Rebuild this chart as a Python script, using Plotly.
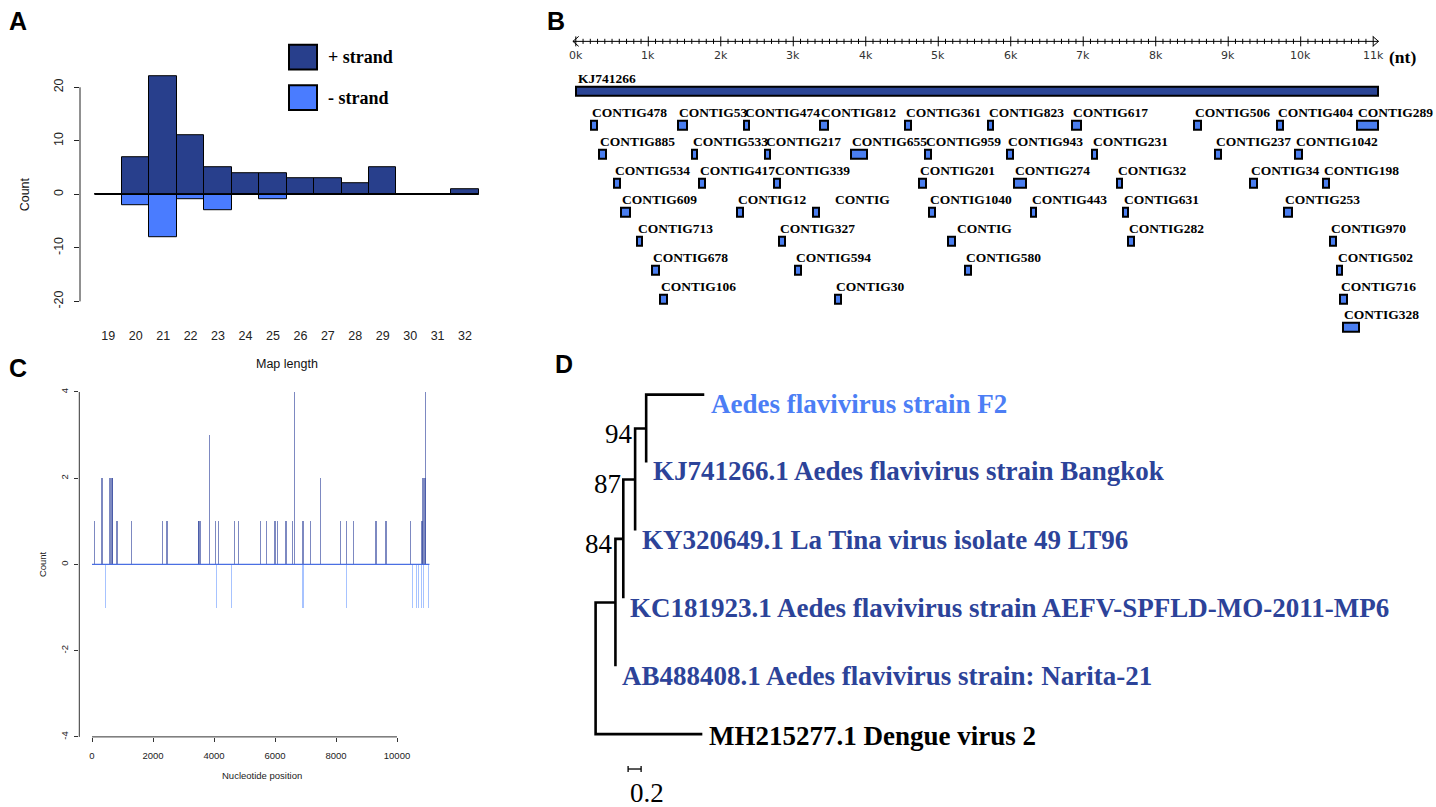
import plotly.graph_objects as go

W, H = 1436, 807

# ---------------- DATA ----------------
# Panel A : length distribution of mapped small RNAs
MAP_LENGTH = list(range(19, 33))
PLUS_COUNT = [0, 7, 22, 11, 5, 4, 4, 3, 3, 2, 5, 0, 0, 1]
MINUS_COUNT = [0, -2, -8, -1, -3, 0, -1, 0, 0, 0, 0, 0, 0, 0]
A_YTICKS = [-20, -10, 0, 10, 20]

# Panel B : contigs mapped on KJ741266
GENOME_NAME = "KJ741266"
GENOME_LENGTH = 11064
RULER_KB = list(range(0, 12))
CONTIG_NAMES = [
    "CONTIG478", "CONTIG53", "CONTIG474", "CONTIG812", "CONTIG361", "CONTIG823", "CONTIG617", "CONTIG506", "CONTIG404", "CONTIG289",
    "CONTIG885", "CONTIG533", "CONTIG217", "CONTIG655", "CONTIG959", "CONTIG943", "CONTIG231", "CONTIG237", "CONTIG1042",
    "CONTIG534", "CONTIG417", "CONTIG339", "CONTIG201", "CONTIG274", "CONTIG32", "CONTIG34", "CONTIG198",
    "CONTIG609", "CONTIG12", "CONTIG", "CONTIG1040", "CONTIG443", "CONTIG631", "CONTIG253",
    "CONTIG713", "CONTIG327", "CONTIG", "CONTIG282", "CONTIG970",
    "CONTIG678", "CONTIG594", "CONTIG580", "CONTIG502",
    "CONTIG106", "CONTIG30", "CONTIG716",
    "CONTIG328",
]
CONTIG_START = [
    210, 1414, 2320, 3369, 4537, 5682, 6845, 8532, 9673, 10781,
    324, 1599, 2606, 3801, 4822, 5944, 7117, 8822, 9917,
    527, 1695, 2730, 4739, 6049, 7462, 9305, 10307,
    619, 2219, 3276, 4877, 6275, 7545, 9774,
    848, 2807, 5139, 7622, 10408,
    1047, 3028, 5373, 10501,
    1162, 3580, 10546,
    10588,
]
CONTIG_END = [
    292, 1530, 2394, 3475, 4620, 5760, 6965, 8620, 9756, 11062,
    417, 1676, 2679, 4021, 4904, 6035, 7194, 8896, 10014,
    610, 1782, 2817, 4827, 6211, 7539, 9393, 10386,
    748, 2302, 3355, 4955, 6353, 7622, 9880,
    917, 2886, 5231, 7696, 10483,
    1144, 3102, 5448, 10574,
    1254, 3654, 10643,
    10800,
]
CONTIG_ROW = [1] * 10 + [2] * 9 + [3] * 8 + [4] * 7 + [5] * 5 + [6] * 4 + [7] * 3 + [8]

# Panel C : read coverage along the genome (+ / - strand)
POS_SITE = [88, 340, 590, 610, 665, 685, 830, 1300, 2320, 2470, 3490, 3520, 3580, 3850, 4050,
            4165, 4675, 4805, 5530, 5730, 6010, 6090, 6370, 6570, 6655, 6930, 7160, 7500, 8150,
            8350, 8580, 9320, 9650, 10450, 10810, 10840, 10860, 10930, 10950]
POS_COUNT = [1, 2, 2, 2, 2, 2, 1, 1, 1, 1, 1, 1, 1, 3, 1,
             1, 1, 1, 1, 1, 1, 1, 1, 1, 4, 1, 1, 2, 1,
             1, 1, 1, 1, 1, 1, 1, 2, 2, 4]
NEG_SITE = [440, 4100, 4590, 6930, 8350, 10510, 10640, 10720, 10800, 10890, 11030]
NEG_COUNT = [-1, -1, -1, -1, -1, -1, -1, -1, -1, -1, -1]
C_XTICKS = [0, 2000, 4000, 6000, 8000, 10000]
C_YTICKS = [-4, -2, 0, 2, 4]

# Panel D : phylogenetic tree (newick, branch lengths, bootstrap)
NEWICK = "(((((F2:0.894,BKK:0)94:0.170,KY:0)87:0.182,KC:0)84:0.121,AB:0):0.305,DEN:1.642);"
TIP_TEXT = {
    "F2": "Aedes flavivirus strain F2",
    "BKK": "KJ741266.1 Aedes flavivirus strain Bangkok",
    "KY": "KY320649.1 La Tina virus isolate 49 LT96",
    "KC": "KC181923.1 Aedes flavivirus strain AEFV-SPFLD-MO-2011-MP6",
    "AB": "AB488408.1 Aedes flavivirus strain: Narita-21",
    "DEN": "MH215277.1 Dengue virus 2",
}
SCALE_BAR = 0.2

# ---------------- STYLE ----------------
PLUS_COLOR = "#283f8c"
MINUS_COLOR = "#4a7cff"
GENOME_COLOR = "#2b4596"
CONTIG_COLOR = "#4a7ef0"
TIP_COLOR = {"F2": "#4c7ef5", "BKK": "#2c4399", "KY": "#2c4399", "KC": "#2c4399", "AB": "#2c4399", "DEN": "#000000"}
TIP_YSHIFT = {"F2": -9, "BKK": -9, "KY": -10, "KC": -10, "AB": -10, "DEN": -2}
LABEL_XSHIFT = {29: 21, 36: 8}   # the two unnamed "CONTIG" labels sit right of their boxes
SANS = "Liberation Sans, Arial, sans-serif"
SERIF = "Liberation Serif, Times New Roman, serif"


def pxx(x):
    return x / W


def pxy(y):
    return 1 - y / H


def rlab(v):
    # R-style tick text (plain hyphen minus, no SI suffix)
    return str(v)


fig = go.Figure()
shapes = []
ann = []

# ================= Panel A =================
fig.add_trace(go.Bar(x=MAP_LENGTH, y=PLUS_COUNT, width=1, xaxis="x", yaxis="y",
                     marker=dict(color=PLUS_COLOR, line=dict(color="black", width=1)),
                     showlegend=False, hoverinfo="skip"))
fig.add_trace(go.Bar(x=MAP_LENGTH, y=MINUS_COUNT, width=1, xaxis="x", yaxis="y",
                     marker=dict(color=MINUS_COLOR, line=dict(color="black", width=1)),
                     showlegend=False, hoverinfo="skip"))
shapes.append(dict(type="line", xref="x", yref="y", x0=min(MAP_LENGTH) - 0.5, x1=max(MAP_LENGTH) + 0.5,
                   y0=0, y1=0, line=dict(color="black", width=1.2)))
shapes.append(dict(type="line", xref="x domain", yref="y", x0=0, x1=0, y0=min(A_YTICKS), y1=max(A_YTICKS),
                   line=dict(color="#222", width=1)))
# legend
for (y0, y1, col, txt) in [(41, 66, PLUS_COLOR, "+ strand"), (82, 107, MINUS_COLOR, "- strand")]:
    shapes.append(dict(type="rect", xref="paper", yref="paper", x0=pxx(289), x1=pxx(317), y0=pxy(y1), y1=pxy(y0),
                       fillcolor=col, line=dict(color="black", width=2)))
    ann.append(dict(xref="paper", yref="paper", x=pxx(326), y=pxy((y0 + y1) / 2), text="<b>%s</b>" % txt,
                    xanchor="left", yanchor="middle", showarrow=False, font=dict(family=SERIF, size=18, color="black")))
ann.append(dict(xref="paper", yref="paper", x=pxx(25), y=pxy(192), text="Count", textangle=-90, showarrow=False,
                xanchor="center", yanchor="middle", font=dict(family=SANS, size=12.5, color="#111")))
ann.append(dict(xref="paper", yref="paper", x=pxx(287), y=pxy(363), text="Map length", showarrow=False,
                xanchor="center", yanchor="middle", font=dict(family=SANS, size=12.5, color="#111")))

# ================= Panel B =================
ROW_PITCH = 29.2


def row_of(py):
    return 1 + (py - 109.3) / ROW_PITCH


ruler_y = row_of(37.7)
rx, ry = [], []
rx += [-40, GENOME_LENGTH + 10, None]
ry += [ruler_y, ruler_y, None]
for t in range(0, RULER_KB[-1] * 1000 + 1, 100):
    half = 5 / ROW_PITCH if t % 1000 == 0 else 2.6 / ROW_PITCH
    rx += [t, t, None]
    ry += [ruler_y - half, ruler_y + half, None]
ah_x, ah_y = 80, 5 / ROW_PITCH
rx += [-40 + ah_x, -40, -40 + ah_x, None, GENOME_LENGTH + 10 - ah_x, GENOME_LENGTH + 10, GENOME_LENGTH + 10 - ah_x, None]
ry += [ruler_y - ah_y, ruler_y, ruler_y + ah_y, None, ruler_y - ah_y, ruler_y, ruler_y + ah_y, None]
fig.add_trace(go.Scatter(x=rx, y=ry, mode="lines", line=dict(color="black", width=1), xaxis="x2", yaxis="y2",
                         showlegend=False, hoverinfo="skip"))
for k in RULER_KB:
    ann.append(dict(xref="x2", yref="y2", x=k * 1000, y=row_of(51.7), text="%dk" % k, showarrow=False,
                    xanchor="center", yanchor="middle", font=dict(family="DejaVu Sans", size=11, color="#333")))
ann.append(dict(xref="paper", yref="paper", x=pxx(1387), y=pxy(53.5), text="<b>(nt)</b>", showarrow=False,
                xanchor="left", yanchor="middle", font=dict(family=SERIF, size=17.5, color="black")))

g_row = row_of(87.8)
fig.add_trace(go.Bar(orientation="h", y=[g_row], x=[GENOME_LENGTH], base=[0], width=0.32, xaxis="x2", yaxis="y2",
                     marker=dict(color=GENOME_COLOR, line=dict(color="black", width=2)),
                     showlegend=False, hoverinfo="skip"))
ann.append(dict(xref="x2", yref="y2", x=0, y=row_of(75), text="<b>%s</b>" % GENOME_NAME, showarrow=False,
                xanchor="left", yanchor="middle", font=dict(family=SERIF, size=13.5, color="black")))

fig.add_trace(go.Bar(orientation="h",
                     y=[r + 0.44 for r in CONTIG_ROW],
                     x=[e - s for s, e in zip(CONTIG_START, CONTIG_END)],
                     base=CONTIG_START, width=0.31, xaxis="x2", yaxis="y2",
                     marker=dict(color=CONTIG_COLOR, line=dict(color="black", width=2)),
                     showlegend=False, hoverinfo="skip"))
for i, (name, s, r) in enumerate(zip(CONTIG_NAMES, CONTIG_START, CONTIG_ROW)):
    ann.append(dict(xref="x2", yref="y2", x=s, y=r, text="<b>%s</b>" % name, showarrow=False,
                    xanchor="left", yanchor="middle", xshift=LABEL_XSHIFT.get(i, 0) - 1,
                    font=dict(family=SERIF, size=13.5, color="black")))

# ================= Panel C =================
fig.add_trace(go.Scatter(x=[0, GENOME_LENGTH], y=[0, 0], mode="lines", line=dict(color="#4a6fe3", width=1.2),
                         xaxis="x3", yaxis="y3", showlegend=False, hoverinfo="skip"))
fig.add_trace(go.Bar(x=POS_SITE, y=POS_COUNT, width=38, xaxis="x3", yaxis="y3",
                     marker=dict(color="rgba(45,65,155,0.62)", line=dict(width=0)),
                     showlegend=False, hoverinfo="skip"))
fig.add_trace(go.Bar(x=NEG_SITE, y=NEG_COUNT, width=38, xaxis="x3", yaxis="y3",
                     marker=dict(color="rgba(95,145,255,0.55)", line=dict(width=0)),
                     showlegend=False, hoverinfo="skip"))
shapes.append(dict(type="line", xref="x3 domain", yref="y3", x0=0, x1=0, y0=min(C_YTICKS), y1=max(C_YTICKS),
                   line=dict(color="#333", width=1)))
shapes.append(dict(type="line", xref="x3", yref="y3 domain", x0=min(C_XTICKS), x1=max(C_XTICKS), y0=0, y1=0,
                   line=dict(color="#333", width=1)))
ann.append(dict(xref="paper", yref="paper", x=pxx(42), y=pxy(565), text="Count", textangle=-90, showarrow=False,
                xanchor="center", yanchor="middle", font=dict(family=SANS, size=9.5, color="#222")))
ann.append(dict(xref="paper", yref="paper", x=pxx(262), y=pxy(778), text="Nucleotide position", showarrow=False,
                xanchor="center", yanchor="middle", font=dict(family=SANS, size=9.5, color="#222")))


# ================= Panel D =================
def parse_newick(s):
    pos = [0]

    def node():
        children = []
        if s[pos[0]] == "(":
            pos[0] += 1
            children.append(node())
            while s[pos[0]] == ",":
                pos[0] += 1
                children.append(node())
            pos[0] += 1
        st = pos[0]
        while s[pos[0]] not in ":,);":
            pos[0] += 1
        label = s[st:pos[0]]
        bl = 0.0
        if s[pos[0]] == ":":
            pos[0] += 1
            st = pos[0]
            while s[pos[0]] not in ",);":
                pos[0] += 1
            bl = float(s[st:pos[0]])
        return {"children": children, "label": label, "bl": bl}

    return node()


tree = parse_newick(NEWICK)
tips = []


def place(n, depth):
    n["x"] = depth + n["bl"]
    if not n["children"]:
        n["y"] = len(tips)
        tips.append(n)
    else:
        for c in n["children"]:
            place(c, n["x"])
        n["y"] = (n["children"][0]["y"] + n["children"][-1]["y"]) / 2


place(tree, 0.0)
tx, ty = [], []
boots = []


def draw(n):
    if not n["children"]:
        return
    a, b = n["children"][0], n["children"][-1]
    tx.extend([a["x"], n["x"], n["x"], b["x"], None])
    ty.extend([a["y"], a["y"], b["y"], b["y"], None])
    for c in n["children"][1:-1]:
        tx.extend([n["x"], c["x"], None])
        ty.extend([c["y"], c["y"], None])
    for c in n["children"]:
        if c["children"] and c["label"]:
            boots.append((n["x"], c["y"], c["label"]))
        draw(c)


draw(tree)
fig.add_trace(go.Scatter(x=tx, y=ty, mode="lines", line=dict(color="black", width=2.6), xaxis="x4", yaxis="y4",
                         showlegend=False, hoverinfo="skip"))
for t in tips:
    key = t["label"]
    ann.append(dict(xref="x4", yref="y4", x=t["x"], y=t["y"], text="<b>%s</b>" % TIP_TEXT[key], showarrow=False,
                    xanchor="left", yanchor="middle", xshift=5, yshift=TIP_YSHIFT[key],
                    font=dict(family=SERIF, size=27, color=TIP_COLOR[key])))
for (x, y, lab) in boots:
    ann.append(dict(xref="x4", yref="y4", x=x, y=y, text=lab, showarrow=False, xanchor="right", yanchor="middle",
                    xshift=0, yshift=-5, font=dict(family=SERIF, size=27, color="black")))
sb_y = 5.514
sb_x0 = 0.5
cap = 0.045
fig.add_trace(go.Scatter(x=[sb_x0, sb_x0 + SCALE_BAR, None, sb_x0, sb_x0, None, sb_x0 + SCALE_BAR, sb_x0 + SCALE_BAR],
                         y=[sb_y, sb_y, None, sb_y - cap, sb_y + cap, None, sb_y - cap, sb_y + cap],
                         mode="lines", line=dict(color="black", width=1.3), xaxis="x4", yaxis="y4",
                         showlegend=False, hoverinfo="skip"))
ann.append(dict(xref="x4", yref="y4", x=sb_x0, y=sb_y, text=str(SCALE_BAR), showarrow=False,
                xanchor="left", yanchor="middle", xshift=0, yshift=-24,
                font=dict(family=SERIF, size=27, color="black")))

for (x, y, L) in [(18, 17, "A"), (556, 17, "B"), (18, 367, "C"), (564, 363, "D")]:
    ann.append(dict(xref="paper", yref="paper", x=pxx(x), y=pxy(y), text="<b>%s</b>" % L, showarrow=False,
                    xanchor="center", yanchor="middle", font=dict(family=SANS, size=25, color="black")))

# ---------------- LAYOUT ----------------
hidden = dict(visible=False, showgrid=False, zeroline=False)
fig.update_layout(
    width=W, height=H, autosize=False,
    margin=dict(l=0, r=0, t=0, b=0),
    paper_bgcolor="white", plot_bgcolor="white",
    barmode="overlay", bargap=0,
    showlegend=False,
    shapes=shapes, annotations=ann,
    xaxis=dict(domain=[pxx(80), pxx(492.5)], range=[17.97, 33.0], anchor="y",
               tickvals=MAP_LENGTH, ticktext=[rlab(v) for v in MAP_LENGTH], ticks="", showline=False,
               showgrid=False, zeroline=False,
               tickfont=dict(family=SANS, size=12.5, color="#222"), ticklabelstandoff=9),
    yaxis=dict(domain=[pxy(316.2), pxy(67.8)], range=[-23, 23], anchor="x",
               tickvals=A_YTICKS, ticktext=[rlab(v) for v in A_YTICKS], ticks="outside", ticklen=5,
               tickcolor="#222", tickangle=-90, showline=False, showgrid=False, zeroline=False,
               tickfont=dict(family=SANS, size=12.5, color="#222"), ticklabelstandoff=6),
    xaxis2=dict(domain=[pxx(565), pxx(1430)], range=[(565 - 575.8) / 0.07249, (1430 - 575.8) / 0.07249],
                anchor="y2", **hidden),
    yaxis2=dict(domain=[pxy(340), pxy(30)], range=[row_of(340), row_of(30)], anchor="x2", **hidden),
    xaxis3=dict(domain=[pxx(79.3), pxx(441)], range=[(79.3 - 92) / 0.0305, (441 - 92) / 0.0305], anchor="y3",
                tickvals=C_XTICKS, ticktext=[rlab(v) for v in C_XTICKS], ticks="outside", ticklen=4,
                tickcolor="#333", showline=False, showgrid=False, zeroline=False,
                tickfont=dict(family=SANS, size=9.5, color="#222"), ticklabelstandoff=6),
    yaxis3=dict(domain=[pxy(739.3), pxy(391.3)], range=[-4, 4], anchor="x3",
                tickvals=C_YTICKS, ticktext=[rlab(v) for v in C_YTICKS], ticks="outside", ticklen=4,
                tickcolor="#333", tickangle=-90, showline=False, showgrid=False, zeroline=False,
                tickfont=dict(family=SANS, size=9.5, color="#222"), ticklabelstandoff=3),
    xaxis4=dict(domain=[pxx(560), 1.0], range=[(560 - 595.6) / 65, (1436 - 595.6) / 65], anchor="y4", **hidden),
    yaxis4=dict(domain=[0.0, pxy(370)], range=[(807 - 394) / 68.5, (370 - 394) / 68.5], anchor="x4", **hidden),
)

fig.write_html("out.html", config={"displayModeBar": False},
               post_script="document.body.style.margin='0';document.body.style.overflow='hidden';")
